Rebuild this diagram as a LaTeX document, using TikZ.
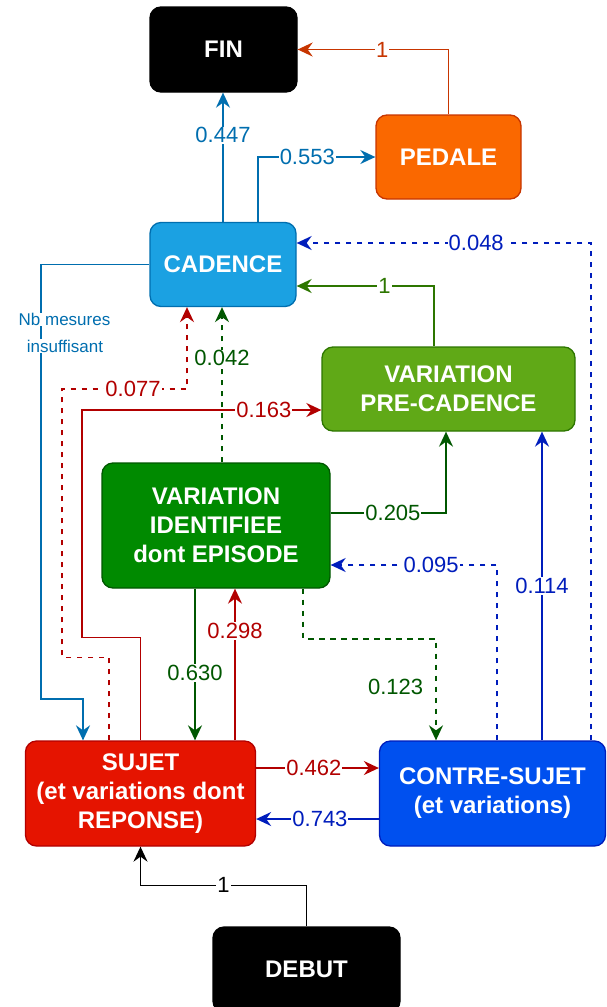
\documentclass[tikz,border=0pt]{standalone}
\usepackage{fontspec}
\setmainfont{Liberation Sans}
\usetikzlibrary{arrows.meta,calc}
\definecolor{pedF}{HTML}{FA6800}
\definecolor{pedD}{HTML}{C73500}
\definecolor{cadF}{HTML}{1BA1E2}
\definecolor{cadD}{HTML}{006EAF}
\definecolor{vpcF}{HTML}{60A917}
\definecolor{vpcD}{HTML}{2D7600}
\definecolor{vieF}{HTML}{008A00}
\definecolor{vieD}{HTML}{005700}
\definecolor{sujF}{HTML}{E51400}
\definecolor{sujD}{HTML}{B20000}
\definecolor{csF}{HTML}{0050EF}
\definecolor{csD}{HTML}{001DBC}
\begin{document}
\begin{tikzpicture}[x=1pt,y=-1pt,
  box/.style={rounded corners=11pt, line width=1.3pt, inner sep=0pt, align=center,
    text=white, font=\fontsize{24}{29}\selectfont\bfseries},
  conn/.style={line width=1.7pt, -{Stealth[length=15pt,width=14pt,inset=5pt]}},
  dsh/.style={dash pattern=on 5.5pt off 5.5pt},
  lab/.style={fill=white, inner sep=1pt, font=\fontsize{22}{26}\selectfont},
  nb/.style={fill=white, inner sep=0.5pt, font=\fontsize{17}{20}\selectfont}]
\useasboundingbox (0,0) rectangle (606,1007);
\node[box, fill=black, draw=black, minimum width=147pt, minimum height=85pt] (FIN) at (223.5,49.5) {FIN};
\node[box, fill=pedF, draw=pedD, minimum width=145pt, minimum height=84pt] (PED) at (448.5,157) {PEDALE};
\node[box, fill=cadF, draw=cadD, minimum width=146pt, minimum height=84pt] (CAD) at (223,264.5) {CADENCE};
\node[box, fill=vpcF, draw=vpcD, minimum width=253pt, minimum height=84pt] (VPC) at (448.5,389) {VARIATION\\PRE-CADENCE};
\node[box, fill=vieF, draw=vieD, minimum width=228pt, minimum height=125pt] (VIE) at (216,525.5) {VARIATION\\IDENTIFIEE\\dont EPISODE};
\node[box, fill=sujF, draw=sujD, minimum width=230pt, minimum height=105pt] (SUJ) at (140.5,793.5) {SUJET\\(et variations dont\\REPONSE)};
\node[box, fill=csF, draw=csD, minimum width=226pt, minimum height=105pt] (CS) at (492.5,793.5) {CONTRE-SUJET\\(et variations)};
\node[box, fill=black, draw=black, minimum width=187pt, minimum height=85pt] (DEB) at (306.5,969.5) {DEBUT};

\draw[conn, pedD] (PED.north) |- node[lab,pos=0.72]{1} (FIN.east);
\draw[conn, cadD] (CAD.north) -- node[lab,pos=0.67]{0.447} (CAD.north |- FIN.south);
\draw[conn, cadD] ([xshift=35pt]CAD.north) |- node[lab,pos=0.71]{0.553} (PED.west);
\draw[conn, dsh, csD] ([xshift=98.5pt]CS.north) |- node[lab,pos=0.695]{0.048} ([yshift=21.5pt]CAD.east);
\draw[conn, vpcD] ([xshift=-14.5pt]VPC.north) |- node[lab,pos=0.68]{1} ([yshift=-21.5pt]CAD.east);
\draw[conn, cadD] (CAD.west) -| node[nb,pos=0.563,xshift=23.5pt]{Nb mesures} node[nb,pos=0.594,xshift=24pt]{insuffisant} (41,699) -| ([xshift=-57.5pt]SUJ.north);
\draw[conn, dsh, sujD] ([xshift=-31.5pt]SUJ.north) -- ++(0,-83) -| (62,389) -| node[lab,pos=0.284]{0.077} ([xshift=-36pt]CAD.south);
\draw[conn, dsh, vieD] ([xshift=6pt]VIE.north) -- node[lab,pos=0.67]{0.042} ([xshift=6pt]VIE.north |- CAD.south);
\draw[conn, sujD] (SUJ.north) -- ++(0,-103) -| (82,410) -- node[lab,pos=0.76]{0.163} ([yshift=-21pt]VPC.west);
\draw[conn, vieD] ([yshift=12.5pt]VIE.east) -| node[lab,pos=0.27]{0.205} ([xshift=-2.5pt]VPC.south);
\draw[conn, csD] ([xshift=49.5pt]CS.north) -- node[lab,pos=0.5]{0.114} ([xshift=49.5pt]CS.north |- VPC.south);
\draw[conn, dsh, csD] ([xshift=4.5pt]CS.north) |- node[lab,pos=0.698]{0.095} ([yshift=-39.5pt]VIE.east);
\draw[conn, vieD] ([xshift=-21pt]VIE.south) -- node[lab,pos=0.555]{0.630} ([xshift=-21pt]VIE.south |- SUJ.north);
\draw[conn, sujD] ([xshift=94.5pt]SUJ.north) -- node[lab,pos=0.72]{0.298} ([xshift=94.5pt]SUJ.north |- VIE.south);
\draw[conn, dsh, vieD] ([xshift=87pt]VIE.south) -- ++(0,50) -| node[lab,pos=0.738,anchor=east,xshift=-11pt]{0.123} ([xshift=-56.5pt]CS.north);
\draw[conn, sujD] ([yshift=25.5pt]SUJ.east) -- node[lab,pos=0.47]{0.462} ([yshift=25.5pt]CS.west);
\draw[conn, csD] ([yshift=-25.5pt]CS.west) -- node[lab,pos=0.48]{0.743} ([yshift=-25.5pt]SUJ.east);
\draw[conn, black] (DEB.north) -- ++(0,-41) -| node[lab,pos=0.25]{1} (SUJ.south);
\end{tikzpicture}
\end{document}
